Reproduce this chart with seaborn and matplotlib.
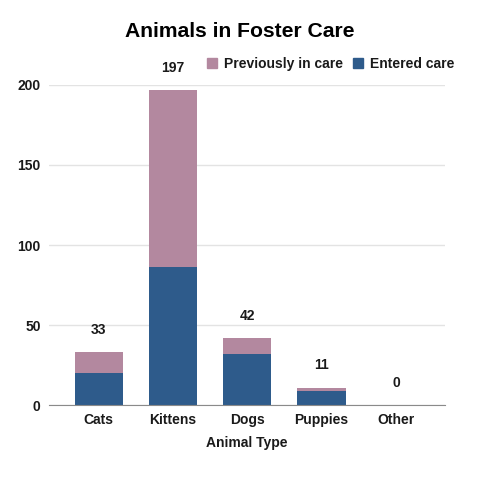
import matplotlib
matplotlib.use('Agg')
import matplotlib.pyplot as plt
from matplotlib.lines import Line2D
import seaborn as sns
import pandas as pd

animals = ['Cats', 'Kittens', 'Dogs', 'Puppies', 'Other']
entered = [20, 86, 32, 9, 0]
previous = [13, 111, 10, 2, 0]
totals = [e + p for e, p in zip(entered, previous)]

blue = '#2E5B8B'
mauve = '#B3889F'

sns.set_style('white')
plt.rcParams['font.family'] = ['Liberation Sans', 'DejaVu Sans']

data = pd.DataFrame({'animal': animals, 'entered': entered, 'total': totals})

fig = plt.figure(figsize=(4.8, 4.8), dpi=100)
ax = fig.add_axes([0.102, 0.156, 0.825, 0.667])

sns.barplot(data=data, x='animal', y='total', color=mauve, width=0.65,
            saturation=1, linewidth=0, ax=ax, zorder=2)
sns.barplot(data=data, x='animal', y='entered', color=blue, width=0.65,
            saturation=1, linewidth=0, ax=ax, zorder=3)

for i, t in enumerate(totals):
    ax.annotate(str(t), (i, t), xytext=(0, 16), textcoords='offset points',
                ha='center', va='center', fontsize=10, fontweight='bold',
                color='#1a1a1a')

ax.set_ylim(0, 200)
ax.set_xlim(-0.67, 4.66)
ax.set_yticks([0, 50, 100, 150, 200])
ax.grid(axis='y', color='#e3e3e3', linewidth=1, zorder=0)
ax.set_axisbelow(True)
for s in ['top', 'right', 'left']:
    ax.spines[s].set_visible(False)
ax.spines['bottom'].set_color('#8a8a8a')
ax.spines['bottom'].set_zorder(4)
ax.tick_params(axis='both', length=0, labelsize=10, labelcolor='#1a1a1a', pad=6)
for lab in ax.get_xticklabels() + ax.get_yticklabels():
    lab.set_fontweight('bold')
ax.set_ylabel('')
ax.set_xlabel('Animal Type', fontsize=10, fontweight='bold', color='#1a1a1a', labelpad=6)

fig.suptitle('Animals in Foster Care', x=0.5, y=0.955, fontsize=15.2, fontweight='bold',
             color='black')

handles = [Line2D([], [], marker='s', linestyle='', color=mauve, markersize=6.5),
           Line2D([], [], marker='s', linestyle='', color=blue, markersize=6.5)]
fig.legend(handles, ['Previously in care', 'Entered care'], ncol=2, frameon=False,
           loc='center right', bbox_to_anchor=(0.972, 0.866), handletextpad=0.35,
           columnspacing=0.6, handlelength=1.0, labelcolor='#1a1a1a',
           prop={'weight': 'bold', 'size': 10})

fig.savefig('out.png', dpi=100)
